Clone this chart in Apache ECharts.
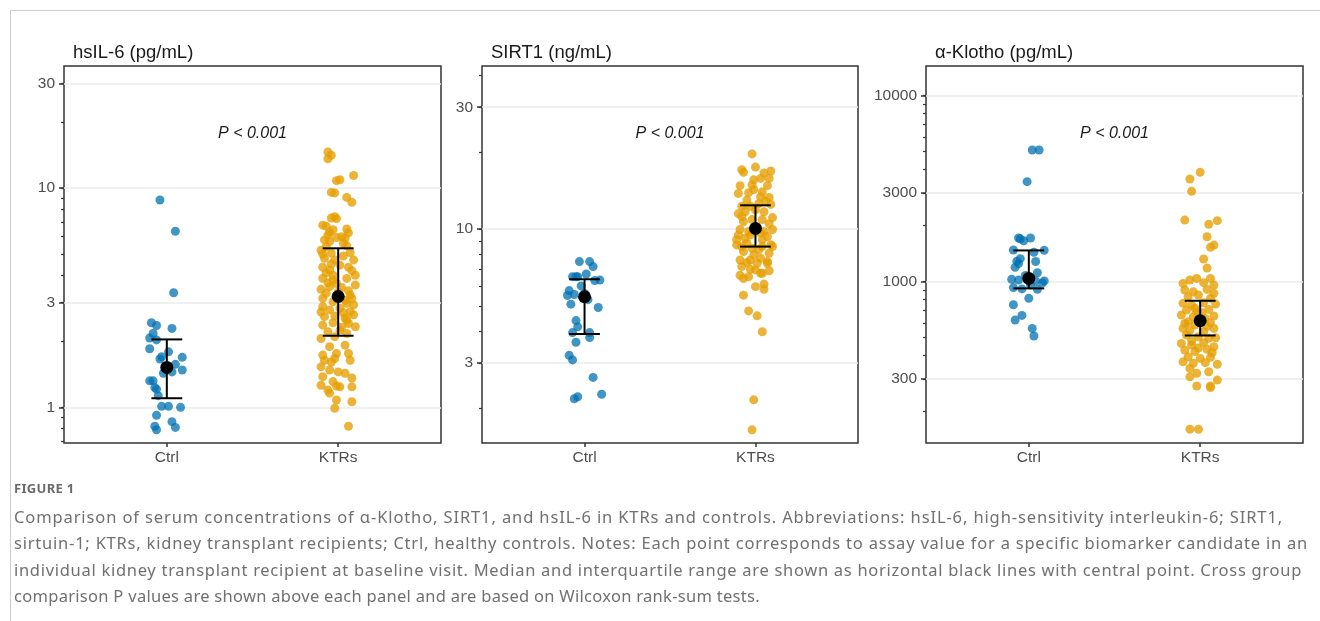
<!DOCTYPE html>
<html>
<head>
<meta charset="utf-8">
<script src="https://cdn.jsdelivr.net/npm/echarts@6/dist/echarts.min.js"></script>
<style>
html,body{margin:0;padding:0;background:#fff;width:1320px;height:621px;overflow:hidden;}
#chart{position:absolute;left:0;top:0;width:1320px;height:621px;}
#frame{position:absolute;left:10px;top:10px;width:1310px;height:611px;border-left:1px solid #cccccc;border-top:1px solid #cccccc;box-sizing:border-box;}
#fig{position:absolute;left:14px;top:479px;font-family:"Noto Sans",sans-serif;font-size:13px;font-weight:bold;color:#6a6a6a;letter-spacing:0.3px;}
#cap{position:absolute;left:14px;top:504px;font-family:"Noto Sans",sans-serif;font-size:16.5px;line-height:26.4px;color:#707070;white-space:nowrap;}
#cap span{display:inline-block;}
</style>
</head>
<body>
<div id="frame"></div>
<div id="chart"></div>
<div id="fig">FIGURE 1</div>
<div id="cap"><span class="ln">Comparison of serum concentrations of α-Klotho, SIRT1, and hsIL-6 in KTRs and controls. Abbreviations: hsIL-6, high-sensitivity interleukin-6; SIRT1,</span><br><span class="ln">sirtuin-1; KTRs, kidney transplant recipients; Ctrl, healthy controls. Notes: Each point corresponds to assay value for a specific biomarker candidate in an</span><br><span class="ln">individual kidney transplant recipient at baseline visit. Median and interquartile range are shown as horizontal black lines with central point. Cross group</span><br><span class="ln">comparison P values are shown above each panel and are based on Wilcoxon rank-sum tests.</span></div>
<script>
// ---------- data ----------
const groups = ['Ctrl', 'KTRs'];
const panelTitles = ['hsIL-6 (pg/mL)', 'SIRT1 (ng/mL)', 'α-Klotho (pg/mL)'];
const pLabels = ['P < 0.001', 'P < 0.001', 'P < 0.001'];
const il6Ticks = [1, 3, 10, 30];
const sirtTicks = [3, 10, 30];
const klothoTicks = [300, 1000, 3000, 10000];

// points: [jitter offset (category units), value]
const il6Ctrl = [[-0.04,8.82],[0.05,6.35],[0.04,3.33],[-0.09,2.43],[-0.06,2.36],[0.03,2.29],[-0.08,2.17],[-0.1,2.07],[-0.06,2.03],[-0.1,1.85],[0.01,1.79],[-0.03,1.70],[0.09,1.69],[-0.04,1.66],[0.05,1.57],[0.09,1.48],[0.03,1.45],[-0.02,1.43],[-0.1,1.32],[-0.08,1.32],[-0.07,1.23],[-0.06,1.21],[-0.05,1.13],[-0.03,1.01],[0.01,1.01],[0.08,1.0],[-0.06,0.92],[0.03,0.86],[0.05,0.81],[-0.07,0.82],[-0.06,0.79]];
const il6Ktrs = [[-0.06,14.6],[-0.04,14.1],[-0.06,13.6],[0.09,11.4],[-0.01,10.8],[0.01,10.9],[-0.04,9.55],[-0.02,9.5],[0.05,9.06],[0.08,8.6],
[-0.02,7.4],[-0.04,7.3],[-0.01,7.25],[-0.09,6.77],[-0.07,6.7],[0.05,6.5],[-0.03,6.45],[0.06,6.24],[-0.05,6.28],[-0.08,5.8],
[-0.01,5.95],[0.03,5.6],[-0.07,5.4],[0.05,5.45],[-0.1,5.2],[-0.04,5.05],[0.07,5.08],[-0.08,4.78],[-0.02,4.7],[0.09,4.7],
[-0.09,4.35],[0.01,4.45],[0.06,4.35],[-0.05,4.23],[-0.03,4.0],[0.1,4.0],[-0.09,3.87],[0.05,3.87],[-0.01,3.67],[0.1,3.61],
[-0.1,3.45],[-0.05,3.55],[0.02,3.52],[-0.07,3.31],[0.07,3.25],[0.08,3.14],[-0.09,3.14],[-0.03,3.03],[0.04,3.08],[0.09,2.93],
[-0.09,2.88],[-0.05,2.78],[0.01,2.83],[0.07,2.73],[0.09,2.64],[-0.08,2.59],[-0.02,2.61],[0.04,2.55],[0.06,2.41],[-0.09,2.37],
[-0.03,2.43],[0.1,2.33],[0.01,2.25],[-0.06,2.21],[0.05,2.17],[-0.1,2.06],[-0.02,2.1],[-0.05,1.89],[0.04,1.92],[-0.09,1.73],
[-0.01,1.76],[0.06,1.76],[-0.08,1.64],[-0.02,1.67],[0.07,1.64],[-0.1,1.53],[-0.04,1.61],[-0.05,1.48],[0,1.45],[0.04,1.43],
[-0.09,1.38],[0.08,1.36],[-0.03,1.31],[-0.1,1.26],[-0.01,1.25],[0.01,1.24],[0.08,1.24],[-0.06,1.2],[-0.05,1.16],[-0.01,1.08],
[0.08,1.06],[-0.02,0.99],[0.06,0.82],[-0.05,5.7],[0.0,3.35],[0.05,2.98],[-0.07,4.1],[0.02,6.0],[0.03,2.7],[-0.03,3.8],[0.05,2.5],
[-0.06,6.1],[0.04,5.9],[-0.09,5.0],[0.03,4.9],[-0.04,4.5],[0.08,4.2],[-0.06,3.7],[0.06,3.4],[-0.1,2.72],[0.02,2.32]];
const il6Median = [1.52, 3.2];
const il6Q1 = [1.10, 2.12];
const il6Q3 = [2.04, 5.31];

const sirtCtrl = [[-0.03,7.47],[0.03,7.47],[0.05,7.14],[-0.07,6.52],[-0.05,6.52],[-0.04,6.52],[0.01,6.68],[0.09,6.32],[0.06,6.3],[-0.09,5.75],[-0.1,5.5],[-0.06,5.55],[-0.08,5.09],[0.08,4.94],[-0.05,4.39],[-0.04,4.15],[-0.07,3.94],[0.03,3.94],[0.03,3.77],[-0.05,3.61],[-0.09,3.21],[-0.07,3.08],[0.05,2.63],[0.1,2.26],[-0.06,2.17],[-0.04,2.21],[0.0,5.6],[-0.02,6.0],[0.02,5.3]];
const sirtKtrs = [[-0.02,19.7],[0,17.5],[-0.08,17.1],[-0.07,16.7],[0.09,16.9],[0.05,16.6],[0.03,15.8],[-0.01,15.6],[0.08,15.8],[-0.09,14.8],
[-0.02,14.9],[0.07,14.8],[-0.1,13.8],[-0.04,13.9],[0.04,14.0],[0.08,13.3],[-0.08,12.3],[-0.03,12.3],[0.02,12.6],[0.09,12.5],
[-0.1,11.5],[-0.06,11.7],[0.05,11.7],[0.1,11.1],[-0.07,10.7],[-0.02,10.9],[0.04,10.9],[0.08,10.5],[-0.09,9.97],[-0.04,9.79],
[0.05,9.79],[0.1,9.97],[-0.1,9.5],[-0.06,9.22],[0.04,9.08],[0.07,9.36],[-0.11,8.68],[-0.02,8.43],[0.04,8.55],[0.1,8.55],
[-0.07,8.18],[-0.01,7.93],[0.08,8.05],[-0.09,7.58],[0.03,7.7],[-0.03,7.58],[0.07,7.47],[-0.08,7.14],[-0.03,6.97],[0.03,6.72],
[0.04,6.72],[0.08,6.88],[-0.07,6.41],[0,5.96],[0.05,5.82],[-0.07,5.52],[-0.04,4.79],[0.01,4.58],[0.04,3.97],[-0.01,2.15],
[-0.02,1.64],[-0.05,13.0],[0.03,13.4],[0,11.9],[0.01,10.2],[-0.05,8.8],[0.02,8.3],[-0.11,9.1],[0.09,8.7],[-0.04,6.52],
[0.01,7.36],[0.07,7.36],[-0.01,14.3],[-0.08,11.2],[0.06,12.9],[-0.03,9.5],[0.03,9.64],[-0.08,8.55],[0,6.93],[-0.09,6.6],
[0.05,6.1],[-0.05,7.4]];
const sirtMedian = [5.44, 10.06];
const sirtQ1 = [3.89, 8.55];
const sirtQ3 = [6.37, 12.4];

const klothoCtrl = [[0.02,5105],[0.06,5105],[-0.01,3450],[-0.06,1718],[0.01,1718],[-0.03,1660],[-0.05,1700],[-0.09,1480],[0.09,1475],[0.03,1440],[-0.07,1290],[-0.06,1250],[0.04,1285],[-0.08,1195],[0.05,1118],[-0.1,1030],[-0.06,1020],[-0.01,1030],[0.04,1010],[0.09,1010],[0.08,985],[-0.09,930],[-0.04,915],[0.05,910],[0,814],[-0.09,752],[-0.04,659],[-0.08,622],[0.02,561],[0.03,511],[-0.02,1080],[0.01,960],[-0.05,1330]];
const klothoKtrs = [[0,3873],[-0.06,3565],[-0.05,3062],[-0.09,2145],[0.1,2129],[0.05,2034],[0.04,1746],[0.08,1574],[0.06,1530],[0.02,1324],[0.04,1184],
[-0.1,979],[-0.06,1021],[-0.02,1042],[0.06,1042],[0.02,988],[0.08,959],
[-0.09,902],[-0.04,884],[0.04,909],[0.08,866],[-0.07,831],[-0.01,848],[0.06,814],[-0.1,765],[-0.05,749],[0.02,771],[0.09,758],
[-0.08,704],[-0.02,690],[0.05,710],[-0.11,662],[-0.04,648],[0.03,635],[0.08,654],[-0.09,597],[-0.03,585],[0.06,602],
[-0.1,561],[-0.06,550],[0.02,539],[0.08,561],[-0.08,517],[-0.01,506],[0.05,496],[-0.11,466],[-0.05,457],[0.02,470],[0.08,447],
[-0.09,429],[-0.03,421],[0.04,433],[-0.07,395],[0,387],[0.06,392],[-0.1,371],[-0.04,364],[0.03,367],[-0.02,322],[0.05,328],[-0.06,308],
[0.1,360],[-0.06,342],[0.1,296],[-0.02,275],[0.06,275],[0.06,270],[-0.06,161],[-0.01,161],
[-0.03,720],[0.01,680],[-0.07,610],[0.04,575],[-0.05,480],[0.07,415],[-0.01,440],[0.09,500]];
const klothoMedian = [1042, 617];
const klothoQ1 = [921, 514];
const klothoQ3 = [1473, 790];

// ---------- layout / style ----------
const FONT = '"Liberation Sans", Arial, sans-serif';
const panels = [
  { left: 64,  width: 377, ymin: 0.6875, ymax: 36.0, ticks: il6Ticks, ctrl: il6Ctrl, ktrs: il6Ktrs, med: il6Median, q1: il6Q1, q3: il6Q3 },
  { left: 482, width: 376, ymin: 1.457, ymax: 43.5, ticks: sirtTicks, ctrl: sirtCtrl, ktrs: sirtKtrs, med: sirtMedian, q1: sirtQ1, q3: sirtQ3 },
  { left: 926, width: 377, ymin: 135.8, ymax: 14446, ticks: klothoTicks, ctrl: klothoCtrl, ktrs: klothoKtrs, med: klothoMedian, q1: klothoQ1, q3: klothoQ3 }
];
const TOP = 66, HEIGHT = 377;
const colCtrl = '#0072B2', colKtrs = '#E69F00';
const CAP = 0.09;

function minorTicks(lo, hi) {
  const out = [];
  for (let e = Math.floor(Math.log10(lo)) - 1; e <= Math.ceil(Math.log10(hi)); e++) {
    for (let m = 1; m <= 9; m++) {
      const v = m * Math.pow(10, e);
      if (v >= lo && v <= hi) out.push(+v.toPrecision(6));
    }
  }
  return out;
}

const grid = [], xAxis = [], yAxis = [], series = [], graphic = [];
panels.forEach((p, i) => {
  grid.push({ left: p.left, top: TOP, width: p.width, height: HEIGHT, show: true,
    borderColor: '#333333', borderWidth: 1.5, backgroundColor: 'transparent', containLabel: false, outerBoundsMode: 'none' });
  xAxis.push({ type: 'value', gridIndex: i, min: 0.4, max: 2.6,
    axisLine: { show: false }, splitLine: { show: false },
    axisTick: { show: true, customValues: [1, 2], length: 4, lineStyle: { color: '#333', width: 1.5 } },
    axisLabel: { show: true, customValues: [1, 2], margin: 7, color: '#4d4d4d', fontSize: 15.5, fontFamily: FONT,
      formatter: v => groups[Math.round(v) - 1] || '' } });
  yAxis.push({ type: 'log', logBase: 10, gridIndex: i, position: 'left', min: p.ymin, max: p.ymax,
    axisLine: { show: false },
    axisTick: { show: true, customValues: p.ticks, length: 5, lineStyle: { color: '#333', width: 1.5 } },
    axisLabel: { show: true, customValues: p.ticks, margin: 9, color: '#4d4d4d', fontSize: 15.5, fontFamily: FONT,
      formatter: v => String(+(+v).toPrecision(6)) },
    splitLine: { show: true, lineStyle: { color: '#ebebeb', width: 1.5 } } });
  yAxis.push({ type: 'log', logBase: 10, gridIndex: i, position: 'left', offset: 0, min: p.ymin, max: p.ymax,
    axisLine: { show: false }, axisLabel: { show: false }, splitLine: { show: false },
    axisTick: { show: true, customValues: minorTicks(p.ymin, p.ymax), length: 3, lineStyle: { color: '#333', width: 1.2 } } });
  const yi = 2 * i;
  series.push({ type: 'scatter', xAxisIndex: i, yAxisIndex: yi, symbolSize: 9, silent: true,
    itemStyle: { color: colCtrl, opacity: 0.75 }, data: p.ctrl.map(d => [1 + d[0], d[1]]), z: 2 });
  series.push({ type: 'scatter', xAxisIndex: i, yAxisIndex: yi, symbolSize: 9, silent: true,
    itemStyle: { color: colKtrs, opacity: 0.78 }, data: p.ktrs.map(d => [2 + d[0], d[1]]), z: 2 });
  series.push({ type: 'custom', xAxisIndex: i, yAxisIndex: yi, z: 3, silent: true,
    encode: { x: 0, y: [1, 2] },
    data: [0, 1].map(g => [g + 1, p.q1[g], p.q3[g]]),
    renderItem: (params, api) => {
      const x = api.value(0), lo = api.value(1), hi = api.value(2);
      const a = api.coord([x, lo]), b = api.coord([x, hi]);
      const l1 = api.coord([x - CAP, lo]), r1 = api.coord([x + CAP, lo]);
      const l2 = api.coord([x - CAP, hi]), r2 = api.coord([x + CAP, hi]);
      const st = { stroke: '#000', lineWidth: 2 };
      return { type: 'group', children: [
        { type: 'line', shape: { x1: a[0], y1: a[1], x2: b[0], y2: b[1] }, style: st },
        { type: 'line', shape: { x1: l1[0], y1: l1[1], x2: r1[0], y2: r1[1] }, style: st },
        { type: 'line', shape: { x1: l2[0], y1: l2[1], x2: r2[0], y2: r2[1] }, style: st }
      ] };
    } });
  series.push({ type: 'scatter', xAxisIndex: i, yAxisIndex: yi, symbolSize: 13, silent: true, z: 4,
    itemStyle: { color: '#000', opacity: 1 }, data: [0, 1].map(g => [g + 1, p.med[g]]) });

  graphic.push({ type: 'text', left: p.left + 9, top: 43, silent: true,
    style: { text: panelTitles[i], fill: '#1a1a1a', fontSize: 18.5, fontFamily: FONT } });
  const cx = p.left + p.width * (1.5 - 0.4) / 2.2;
  graphic.push({ type: 'text', x: cx, y: 134, silent: true,
    style: { text: pLabels[i], fill: '#1a1a1a', fontSize: 16, fontStyle: 'italic', fontFamily: FONT,
      textAlign: 'center', textVerticalAlign: 'middle' } });
});

const chart = echarts.init(document.getElementById('chart'), null, { renderer: 'canvas' });
chart.setOption({
  animation: false,
  backgroundColor: 'transparent',
  textStyle: { fontFamily: FONT },
  grid, xAxis, yAxis, series, graphic
});

// fit each caption line to the right edge it reaches in the reference
(function () {
  const rightEdges = [1283, 1308, 1302, 760];
  document.querySelectorAll('#cap .ln').forEach((el, k) => {
    const w = el.getBoundingClientRect().width;
    const n = el.textContent.length;
    el.style.letterSpacing = ((rightEdges[k] - 14 - w) / n).toFixed(3) + 'px';
  });
})();
</script>
</body>
</html>
